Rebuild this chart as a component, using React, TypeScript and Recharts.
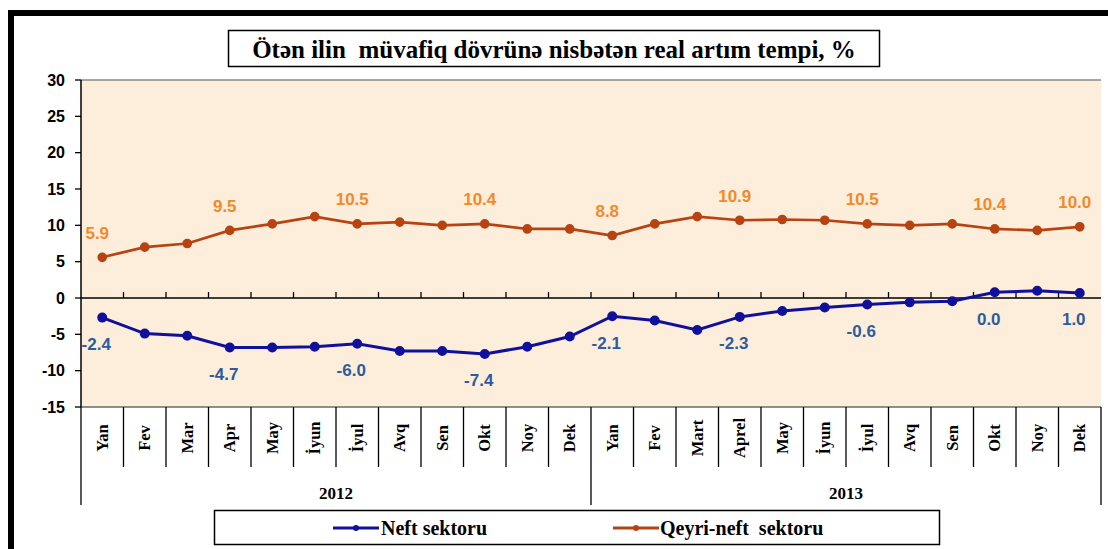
import React from 'react';
import { LineChart, Line, XAxis, YAxis, ReferenceLine, CartesianGrid, LabelList } from 'recharts';

// ---- data ----
const months2012 = ['Yan', 'Fev', 'Mar', 'Apr', 'May', 'İyun', 'İyul', 'Avq', 'Sen', 'Okt', 'Noy', 'Dek'];
const months2013 = ['Yan', 'Fev', 'Mart', 'Aprel', 'May', 'İyun', 'İyul', 'Avq', 'Sen', 'Okt', 'Noy', 'Dek'];
const years = ['2012', '2013'];
const seriesNames = ['Neft sektoru', 'Qeyri-neft  sektoru'];
const chartTitle = 'Ötən ilin  müvafiq dövrünə nisbətən real artım tempi, %';

const neftValues = [-2.7, -4.9, -5.2, -6.8, -6.8, -6.7, -6.3, -7.3, -7.3, -7.7, -6.7, -5.3,
  -2.5, -3.1, -4.4, -2.6, -1.8, -1.3, -0.9, -0.6, -0.45, 0.8, 1.0, 0.7];
const qeyriValues = [5.6, 7.0, 7.5, 9.3, 10.2, 11.2, 10.2, 10.45, 10.0, 10.2, 9.5, 9.5,
  8.6, 10.2, 11.2, 10.7, 10.8, 10.7, 10.2, 10.0, 10.2, 9.5, 9.3, 9.8];

const labelIndices = [0, 3, 6, 9, 12, 15, 18, 21, 23];
const neftLabels = [-2.4, -4.7, -6.0, -7.4, -2.1, -2.3, -0.6, 0.0, 1.0];
const qeyriLabels = [5.9, 9.5, 10.5, 10.4, 8.8, 10.9, 10.5, 10.4, 10.0];

const yTicks = [30, 25, 20, 15, 10, 5, 0, -5, -10, -15];

// ---- layout / style constants ----
const W = 1108;
const H = 549;
const PLOT_LEFT = 81;
const PLOT_RIGHT = 1101;
const PLOT_TOP = 80;
const PLOT_BOTTOM = 407;
const YAXIS_W = 60;
const XAXIS_H = 100;
const BAND = (PLOT_RIGHT - PLOT_LEFT) / 24;

const NEFT_COLOR = '#10109A';
const QEYRI_COLOR = '#B84312';
const NEFT_LABEL = '#2F5B9C';
const QEYRI_LABEL = '#F08A2A';
const SERIF = 'Liberation Serif';
const SANS = 'Liberation Sans';

const monthsAll = [...months2012, ...months2013];
const data = monthsAll.map((m, i) => {
  const li = labelIndices.indexOf(i);
  return {
    key: `${years[Math.floor(i / 12)]}-${i}`,
    month: m,
    year: years[Math.floor(i / 12)],
    neft: neftValues[i],
    qeyri: qeyriValues[i],
    neftLabel: li >= 0 ? neftLabels[li] : null,
    qeyriLabel: li >= 0 ? qeyriLabels[li] : null,
  };
});

const MonthTick = (props: any) => {
  const { x, y, index } = props;
  const row = data[index];
  if (!row) return null;
  const left = x - BAND / 2;
  const isYearStart = index % 12 === 0;
  const isLast = index === data.length - 1;
  return (
    <g>
      <line x1={left} y1={y} x2={left} y2={y + (isYearStart ? 98 : 60)} stroke="#000" strokeWidth={1.3} />
      {isLast && (
        <line x1={x + BAND / 2} y1={y} x2={x + BAND / 2} y2={y + 98} stroke="#000" strokeWidth={1.3} />
      )}
      <text
        transform={`translate(${x},${y + 31}) rotate(-90)`}
        textAnchor="middle"
        dominantBaseline="central"
        fontFamily={SERIF}
        fontWeight="bold"
        fontSize={16.5}
        fill="#000"
      >
        {row.month}
      </text>
      {isYearStart && (
        <text
          x={left + 6 * BAND}
          y={y + 86}
          textAnchor="middle"
          dominantBaseline="central"
          fontFamily={SERIF}
          fontWeight="bold"
          fontSize={17}
          fill="#000"
        >
          {row.year}
        </text>
      )}
    </g>
  );
};

const ZeroLine = (props: any) => {
  const { x1, y1, x2, y2 } = props;
  const n = data.length;
  const step = (x2 - x1) / n;
  const ticks = [];
  for (let k = 1; k < n; k++) {
    ticks.push(
      <line key={k} x1={x1 + step * k} y1={y1} x2={x1 + step * k} y2={y1 - 6} stroke="#000" strokeWidth={1.3} />
    );
  }
  return (
    <g>
      <line x1={x1} y1={y1} x2={x2} y2={y2} stroke="#000" strokeWidth={1.5} />
      {ticks}
    </g>
  );
};

const makeLabel = (color: string, dx: number, dy: number) => (p: any) => {
  const { x, y, value } = p;
  if (value === null || value === undefined) return null;
  return (
    <text
      x={x + dx}
      y={y + dy}
      textAnchor="middle"
      dominantBaseline="central"
      fontFamily={SANS}
      fontWeight="bold"
      fontSize={17}
      fill={color}
    >
      {Number(value).toFixed(1)}
    </text>
  );
};

const LegendSample = ({ x, y, color }: { x: number; y: number; color: string }) => (
  <g>
    <line x1={x} y1={y} x2={x + 46} y2={y} stroke={color} strokeWidth={3} />
    <circle cx={x + 23} cy={y} r={3} fill={color} />
  </g>
);

export default function App() {
  return (
    <div style={{ position: 'absolute', left: 0, top: 0, width: W, height: H, background: '#fff', overflow: 'hidden' }}>
      {/* outer frame */}
      <div
        style={{
          position: 'absolute',
          left: 8,
          top: 10,
          width: W + 20,
          height: H + 20,
          borderTop: '6px solid #000',
          borderLeft: '6px solid #000',
          boxSizing: 'border-box',
        }}
      />
      <div style={{ position: 'absolute', left: 0, top: 0 }}>
        <LineChart
          width={W}
          height={H}
          data={data}
          margin={{ top: PLOT_TOP, right: W - PLOT_RIGHT, bottom: H - PLOT_BOTTOM - XAXIS_H, left: PLOT_LEFT - YAXIS_W }}
        >
          <CartesianGrid horizontal={false} vertical={false} fill="#FCEEDA" fillOpacity={1} />
          <XAxis
            dataKey="key"
            scale="band"
            interval={0}
            axisLine={false}
            tickLine={false}
            tickSize={0}
            tickMargin={0}
            height={XAXIS_H}
            tick={(p: any) => <MonthTick {...p} />}
          />
          <YAxis
            domain={[-15, 30]}
            ticks={yTicks}
            interval={0}
            width={YAXIS_W}
            axisLine={{ stroke: '#000', strokeWidth: 1.5 }}
            tickLine={{ stroke: '#000', strokeWidth: 1.3 }}
            tickSize={6}
            tickMargin={10}
            tick={{ fontFamily: SANS, fontWeight: 'bold', fontSize: 16, fill: '#000' }}
          />
          <YAxis
            yAxisId="frame"
            orientation="right"
            domain={[-15, 30]}
            width={0}
            tick={false}
            tickLine={false}
            axisLine={{ stroke: '#8a8a8a', strokeWidth: 1.5 }}
          />
          <ReferenceLine y={30} stroke="#8a8a8a" strokeWidth={1.5} />
          <ReferenceLine y={-15} stroke="#6a6a6a" strokeWidth={1.5} />
          <ReferenceLine y={0} shape={(p: any) => <ZeroLine {...p} />} />
          <Line
            dataKey="qeyri"
            name={seriesNames[1]}
            type="linear"
            stroke={QEYRI_COLOR}
            strokeWidth={2.7}
            dot={{ r: 3.5, fill: QEYRI_COLOR, stroke: QEYRI_COLOR }}
            isAnimationActive={false}
          >
            <LabelList dataKey="qeyriLabel" content={makeLabel(QEYRI_LABEL, -5, -24)} />
          </Line>
          <Line
            dataKey="neft"
            name={seriesNames[0]}
            type="linear"
            stroke={NEFT_COLOR}
            strokeWidth={3}
            dot={{ r: 3.5, fill: NEFT_COLOR, stroke: NEFT_COLOR }}
            isAnimationActive={false}
          >
            <LabelList dataKey="neftLabel" content={makeLabel(NEFT_LABEL, -6, 27)} />
          </Line>
        </LineChart>
      </div>
      {/* title and legend overlay */}
      <svg width={W} height={H} style={{ position: 'absolute', left: 0, top: 0, pointerEvents: 'none' }}>
        <rect x={228.5} y={30.5} width={651} height={36} fill="#fff" stroke="#000" strokeWidth={1.5} />
        <text
          x={554}
          y={49}
          textAnchor="middle"
          dominantBaseline="central"
          fontFamily={SERIF}
          fontWeight="bold"
          fontSize={25}
          fill="#000"
          style={{ whiteSpace: 'pre' }}
        >
          {chartTitle}
        </text>
        <rect x={214.5} y={510.5} width={725} height={34} fill="#fff" stroke="#000" strokeWidth={1.5} />
        <LegendSample x={333} y={528} color={NEFT_COLOR} />
        <text x={381} y={528} dominantBaseline="central" fontFamily={SERIF} fontWeight="bold" fontSize={20} fill="#000">
          {seriesNames[0]}
        </text>
        <LegendSample x={613} y={528} color={QEYRI_COLOR} />
        <text x={660} y={528} dominantBaseline="central" fontFamily={SERIF} fontWeight="bold" fontSize={20} fill="#000" style={{ whiteSpace: 'pre' }}>
          {seriesNames[1]}
        </text>
      </svg>
    </div>
  );
}
